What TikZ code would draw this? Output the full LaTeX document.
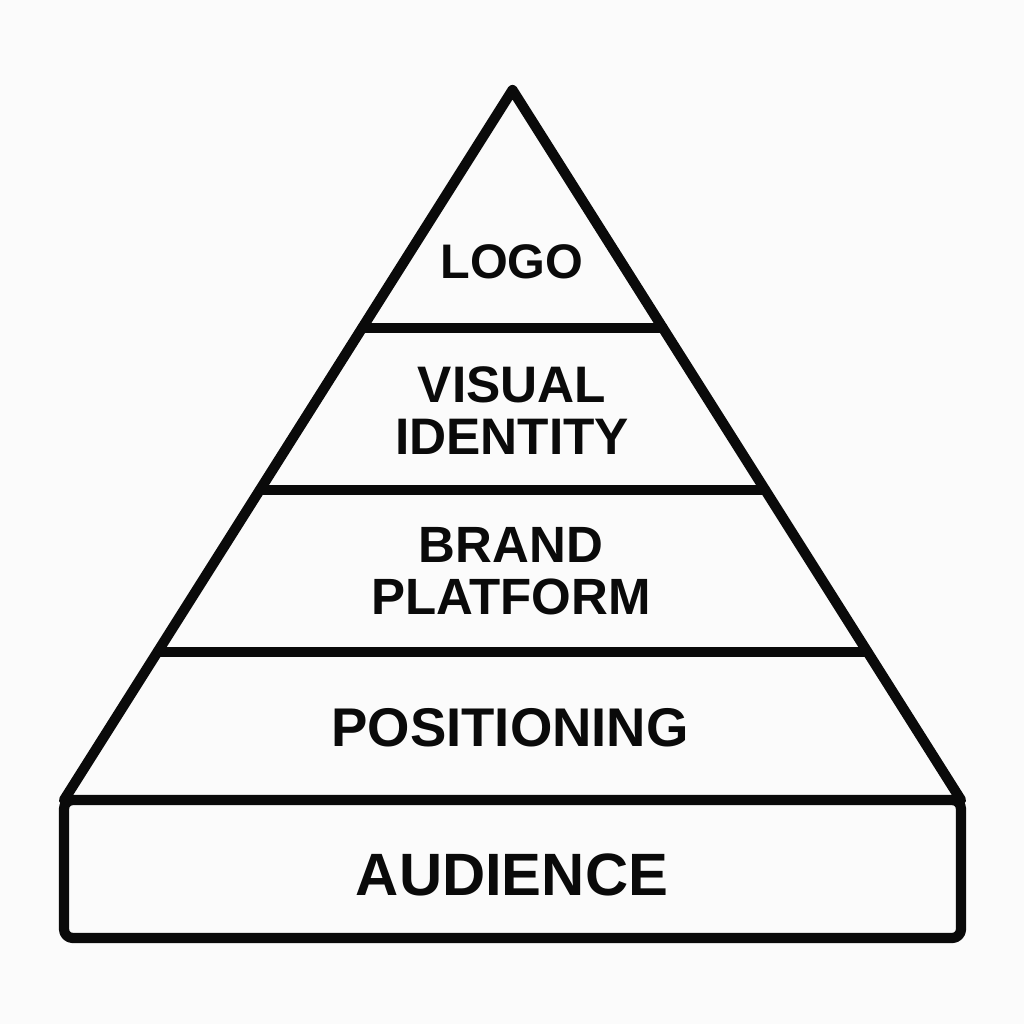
\documentclass[tikz,border=0pt]{standalone}
\usepackage{fontspec}
\setmainfont{Liberation Sans}
\usetikzlibrary{calc}
\usetikzlibrary{positioning}
\definecolor{ink}{RGB}{10, 10, 10}
\definecolor{paper}{RGB}{251, 251, 251}
\newlength{\edgewidth}
\setlength{\edgewidth}{2.9pt}
\tikzset{tiertext/.style={text=ink, align=center, inner sep=0pt}}

\begin{document}
\begin{tikzpicture}[x=0.01cm, y=-0.01cm, line width=\edgewidth, line join=round, line cap=round]

\fill[paper] (0,0) rectangle (1024,1024);
\useasboundingbox (0,0) rectangle (1024,1024);

\coordinate (apex) at (512.5,90);
\coordinate (bl) at (64,800);
\coordinate (br) at (961,800);
\coordinate (floor) at (961,938);

% pyramid
\draw[ink] (bl) -- (apex) -- (br);
\draw[ink] ($(apex)!0.3352!(bl)$) -- ($(apex)!0.3352!(br)$);
\draw[ink] ($(apex)!0.5634!(bl)$) -- ($(apex)!0.5634!(br)$);
\draw[ink] ($(apex)!0.7915!(bl)$) -- ($(apex)!0.7915!(br)$);

% base block
\draw[ink, rounded corners=2.5pt] (bl) rectangle (floor);

\node[tiertext, font=\bfseries\fontsize{13.8}{16}\selectfont](logo) at (512,262){LOGO};
\node[tiertext, font=\bfseries\fontsize{14.6}{14.8}\selectfont](visual) at (512,411){VISUAL\\IDENTITY};
\node[tiertext, font=\bfseries\fontsize{14.5}{14.8}\selectfont](brand) at (511,571){BRAND\\PLATFORM};
\node[tiertext, font=\bfseries\fontsize{15.5}{18}\selectfont](positioning) at (510,728){POSITIONING};
\node[tiertext, font=\bfseries\fontsize{17}{20}\selectfont](audience) at (512,875){AUDIENCE};

\end{tikzpicture}
\end{document}
